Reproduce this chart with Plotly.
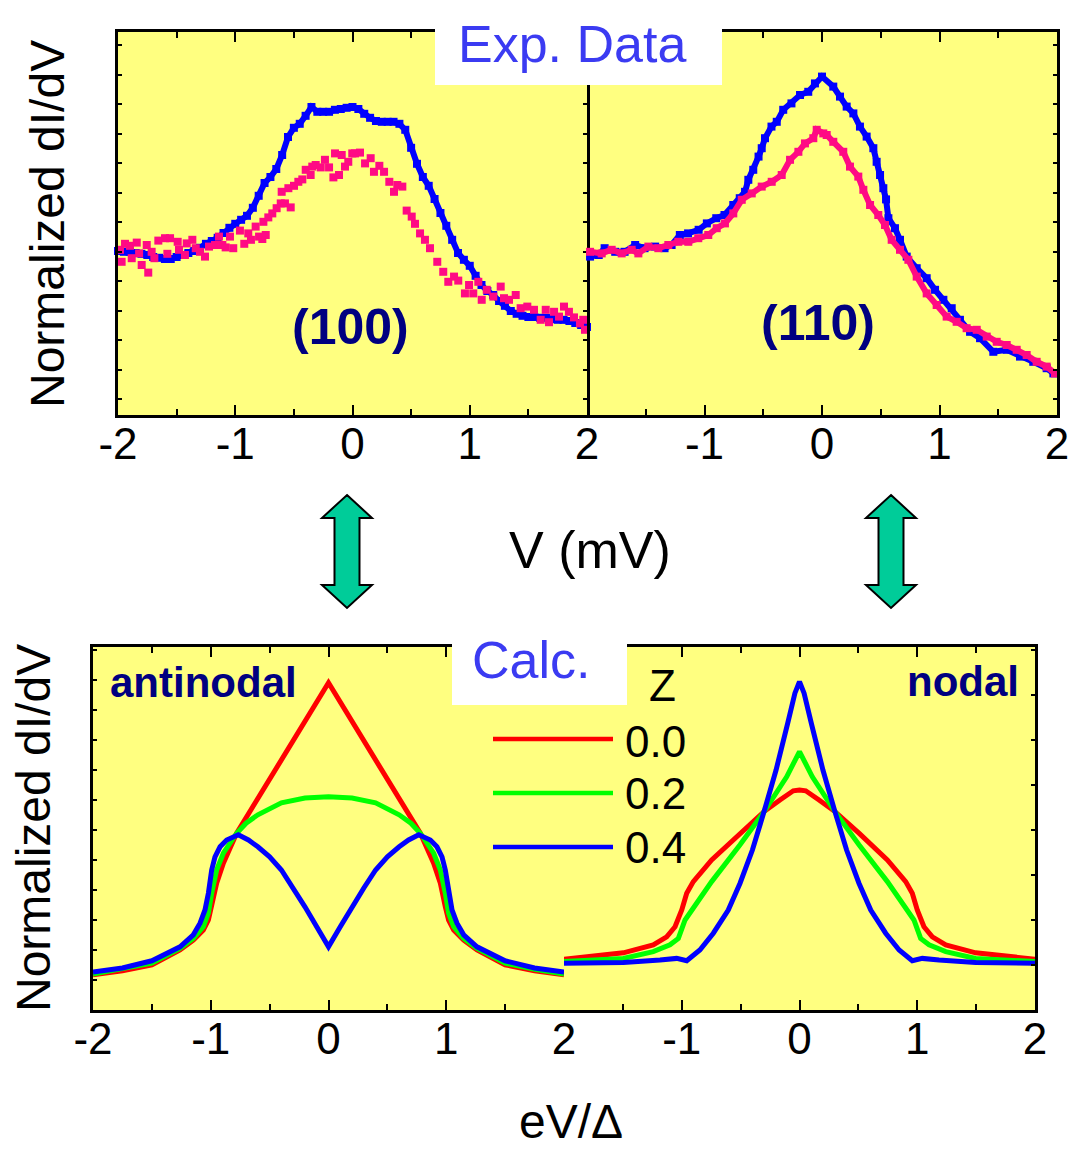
import plotly.graph_objects as go

W, H = 1068, 1157
FONT = "Liberation Sans, Arial, sans-serif"

# ---------------- DATA ----------------
# Exp. (100) blue: bias grid -2..2 step 0.05
V100_blue = [round(-2 + 0.05 * i, 2) for i in range(81)]
blue100 = [1.010, 1.008, 1.008, 1.005, 1.003, 1.000, 0.995, 0.993, 0.990, 0.990,
           0.995, 1.000, 1.005, 1.010, 1.018, 1.028, 1.035, 1.043, 1.055, 1.068,
           1.078, 1.088, 1.098, 1.118, 1.148, 1.180, 1.195, 1.215, 1.250, 1.295,
           1.318, 1.328, 1.348, 1.370, 1.358, 1.358, 1.358, 1.363, 1.365, 1.368,
           1.370, 1.365, 1.353, 1.343, 1.335, 1.333, 1.333, 1.333, 1.328, 1.313,
           1.268, 1.228, 1.195, 1.173, 1.140, 1.105, 1.073, 1.038, 1.005, 0.988,
           0.973, 0.948, 0.925, 0.910, 0.900, 0.885, 0.873, 0.860, 0.853, 0.848,
           0.845, 0.845, 0.843, 0.843, 0.840, 0.838, 0.838, 0.835, 0.830, 0.825,
           0.820]

# Exp. (100) pink (scattered points)
V100_pink = [-1.983, -1.969, -1.94, -1.898, -1.883, -1.84, -1.82, -1.798, -1.755, -1.742,
             -1.713, -1.69, -1.656, -1.599, -1.579, -1.556, -1.491, -1.48, -1.429, -1.414,
             -1.366, -1.337, -1.301, -1.258, -1.224, -1.173, -1.139, -1.11, -1.082, -1.045,
             -1.017, -0.96, -0.923, -0.889, -0.866, -0.826, -0.797, -0.769, -0.76, -0.74,
             -0.718, -0.684, -0.647, -0.612, -0.604, -0.576, -0.547, -0.527, -0.499, -0.462,
             -0.428, -0.399, -0.357, -0.343, -0.314, -0.271, -0.235, -0.2, -0.163, -0.149,
             -0.115, -0.092, -0.064, -0.036, -0.002, 0.021, 0.064, 0.107, 0.155, 0.183,
             0.229, 0.269, 0.314, 0.354, 0.382, 0.425, 0.462, 0.505, 0.533, 0.576,
             0.618, 0.661, 0.723, 0.774, 0.817, 0.866, 0.902, 0.959, 0.994, 1.03,
             1.073, 1.102, 1.145, 1.201, 1.264, 1.292, 1.335, 1.392, 1.434, 1.491,
             1.548, 1.605, 1.648, 1.676, 1.719, 1.761, 1.804, 1.846, 1.889, 1.94,
             1.968, 1.983]
pink100 = [1.013, 0.983, 1.028, 1.023, 0.992, 1.031, 1.004, 0.975, 1.025, 0.956,
           1.008, 0.992, 1.036, 1.042, 1.003, 1.042, 1.033, 1.013, 1.000, 1.029,
           1.038, 1.017, 1.008, 0.996, 1.021, 1.025, 1.046, 1.025, 1.019, 1.046,
           1.017, 1.061, 1.028, 1.054, 1.038, 1.071, 1.046, 1.040, 1.083, 1.050,
           1.094, 1.104, 1.117, 1.129, 1.158, 1.129, 1.167, 1.119, 1.173, 1.183,
           1.189, 1.213, 1.200, 1.221, 1.225, 1.219, 1.238, 1.219, 1.194, 1.254,
           1.200, 1.250, 1.221, 1.233, 1.254, 1.254, 1.256, 1.229, 1.242, 1.208,
           1.223, 1.208, 1.183, 1.158, 1.175, 1.171, 1.111, 1.096, 1.078, 1.054,
           1.038, 1.017, 0.983, 0.958, 0.933, 0.946, 0.936, 0.904, 0.925, 0.904,
           0.933, 0.888, 0.913, 0.896, 0.921, 0.892, 0.888, 0.900, 0.867, 0.871,
           0.863, 0.838, 0.863, 0.832, 0.858, 0.846, 0.871, 0.858, 0.844, 0.829,
           0.838, 0.813]

# Exp. (110) blue
V110_blue = [-1.974, -1.90, -1.85, -1.76, -1.68, -1.59, -1.51, -1.42, -1.34, -1.28,
             -1.21, -1.14, -1.05, -0.98, -0.90, -0.83, -0.755, -0.70, -0.655, -0.627,
             -0.585, -0.54, -0.513, -0.485, -0.43, -0.385, -0.33, -0.26, -0.187, -0.117,
             -0.06, 0.0, 0.096, 0.153, 0.21, 0.267, 0.323, 0.38, 0.437, 0.465,
             0.494, 0.522, 0.545, 0.565, 0.621, 0.664, 0.721, 0.806, 0.891, 0.962,
             1.033, 1.104, 1.174, 1.26, 1.345, 1.458, 1.572, 1.685, 1.798, 1.912,
             1.969]
blue110 = [0.996, 1.000, 1.017, 1.008, 1.008, 1.025, 1.017, 1.021, 1.017, 1.025,
           1.050, 1.054, 1.063, 1.079, 1.092, 1.100, 1.125, 1.142, 1.158, 1.188,
           1.213, 1.246, 1.267, 1.292, 1.321, 1.333, 1.363, 1.379, 1.400, 1.408,
           1.429, 1.446, 1.421, 1.396, 1.371, 1.354, 1.321, 1.296, 1.267, 1.233,
           1.200, 1.167, 1.139, 1.092, 1.067, 1.038, 0.996, 0.967, 0.942, 0.913,
           0.888, 0.867, 0.838, 0.808, 0.792, 0.758, 0.763, 0.746, 0.733, 0.717,
           0.704]

# Exp. (110) pink
V110_pink = [-1.974, -1.875, -1.79, -1.705, -1.62, -1.563, -1.478, -1.393, -1.308, -1.223,
             -1.138, -1.053, -0.968, -0.896, -0.826, -0.755, -0.683, -0.598, -0.513, -0.428,
             -0.343, -0.272, -0.201, -0.145, -0.074, -0.045, 0.011, 0.04, 0.096, 0.181,
             0.238, 0.309, 0.352, 0.409, 0.479, 0.536, 0.593, 0.664, 0.735, 0.806,
             0.891, 0.976, 1.061, 1.146, 1.231, 1.317, 1.402, 1.487, 1.572, 1.657,
             1.742, 1.827, 1.912, 1.983]
pink110 = [1.008, 1.004, 1.013, 1.004, 1.013, 1.004, 1.021, 1.017, 1.025, 1.033,
           1.033, 1.042, 1.050, 1.067, 1.079, 1.104, 1.138, 1.154, 1.171, 1.183,
           1.200, 1.238, 1.258, 1.279, 1.292, 1.313, 1.304, 1.300, 1.283, 1.258,
           1.221, 1.196, 1.163, 1.125, 1.100, 1.075, 1.038, 1.013, 0.988, 0.946,
           0.904, 0.875, 0.846, 0.833, 0.817, 0.813, 0.796, 0.783, 0.775, 0.763,
           0.750, 0.733, 0.721, 0.704]

# Calc. antinodal, Z = 0.0 / 0.2 / 0.4
Va = [-2.0, -1.75, -1.5, -1.261, -1.148, -1.063, -1.02, -0.992, -0.95, -0.893, -0.78,
      0.0,
      0.78, 0.893, 0.95, 0.992, 1.02, 1.063, 1.148, 1.261, 1.5, 1.75, 2.0]
anti_z00 = [0.688, 0.698, 0.713, 0.750, 0.775, 0.800, 0.825, 0.858, 0.917, 0.967, 1.042,
            1.418,
            1.042, 0.967, 0.917, 0.858, 0.825, 0.800, 0.775, 0.750, 0.713, 0.698, 0.688]

Va2 = [-2.0, -1.75, -1.5, -1.261, -1.148, -1.063, -1.02, -0.992, -0.95, -0.893, -0.78,
       -0.7, -0.6, -0.4, -0.2, 0.0, 0.2, 0.4, 0.6, 0.7,
       0.78, 0.893, 0.95, 0.992, 1.02, 1.063, 1.148, 1.261, 1.5, 1.75, 2.0]
anti_z02 = [0.690, 0.702, 0.717, 0.754, 0.779, 0.808, 0.842, 0.892, 0.950, 0.992, 1.042,
            1.067, 1.088, 1.118, 1.130, 1.133, 1.130, 1.118, 1.088, 1.067,
            1.042, 0.992, 0.950, 0.892, 0.842, 0.808, 0.779, 0.754, 0.717, 0.702, 0.690]

Va4 = [-2.0, -1.75, -1.5, -1.261, -1.148, -1.091, -1.049, -1.02, -0.992, -0.964, -0.921,
       -0.865, -0.766, -0.68, -0.6, -0.5, -0.4, -0.3, -0.2, -0.1, 0.0,
       0.1, 0.2, 0.3, 0.4, 0.5, 0.6, 0.68, 0.766, 0.865,
       0.921, 0.964, 0.992, 1.02, 1.049, 1.091, 1.148, 1.261, 1.5, 1.75, 2.0]
anti_z04 = [0.695, 0.705, 0.723, 0.758, 0.788, 0.817, 0.850, 0.892, 0.950, 0.983, 1.008,
            1.025, 1.038, 1.025, 1.008, 0.983, 0.950, 0.905, 0.858, 0.808, 0.758,
            0.808, 0.858, 0.905, 0.950, 0.983, 1.008, 1.025, 1.038, 1.025,
            1.008, 0.983, 0.950, 0.892, 0.850, 0.817, 0.788, 0.758, 0.723, 0.705, 0.695]

# Calc. nodal, Z = 0.0 / 0.2 / 0.4
Vn0 = [-2.0, -1.496, -1.242, -1.128, -1.057, -1.0, -0.958, -0.902, -0.746, -0.505, -0.301,
       -0.166, -0.053, 0.0, 0.053, 0.166,
       0.301, 0.505, 0.746, 0.902, 0.958, 1.0, 1.057, 1.128, 1.242, 1.496, 2.0]
nod_z00 = [0.727, 0.743, 0.763, 0.783, 0.808, 0.850, 0.892, 0.921, 0.975, 1.042, 1.096,
           1.125, 1.148, 1.150, 1.148, 1.125,
           1.096, 1.042, 0.975, 0.921, 0.892, 0.850, 0.808, 0.783, 0.763, 0.743, 0.727]

Vn2 = [-2.0, -1.496, -1.242, -1.1, -1.029, -0.972, -0.746, -0.505, -0.301, -0.109, 0.0,
       0.109, 0.301, 0.505, 0.746, 0.972, 1.029, 1.1, 1.242, 1.496, 2.0]
nod_z02 = [0.721, 0.729, 0.746, 0.763, 0.779, 0.825, 0.921, 1.013, 1.096, 1.183, 1.246,
           1.183, 1.096, 1.013, 0.921, 0.825, 0.779, 0.763, 0.746, 0.729, 0.721]

Vn4 = [-2.0, -1.496, -1.185, -1.043, -0.958, -0.846, -0.732, -0.605, -0.505, -0.4, -0.301,
       -0.199, -0.1, -0.039, 0.0, 0.039, 0.1, 0.199,
       0.301, 0.4, 0.505, 0.605, 0.732, 0.846, 0.958, 1.043, 1.185, 1.496, 2.0]
nod_z04 = [0.717, 0.719, 0.725, 0.729, 0.723, 0.750, 0.792, 0.850, 0.917, 1.000, 1.096,
           1.200, 1.317, 1.392, 1.421, 1.392, 1.317, 1.200,
           1.096, 1.000, 0.917, 0.850, 0.792, 0.750, 0.723, 0.729, 0.725, 0.719, 0.717]

tick_vals = [-2, -1, 0, 1, 2]
tick_text_left = ["-2", "-1", "0", "1", "2"]
tick_text_right = ["", "-1", "0", "1", "2"]
legend_labels = ["0.0", "0.2", "0.4"]

# ---------------- STYLE ----------------
BLUE = "#0000ff"
PINK = "#ff0a84"
RED = "#ff0000"
GREEN = "#00ff00"
NAVY = "#000080"
TXTBLUE = "#3b3bf2"
YELLOW = "#ffff80"
ARROW = "#00cc99"


def px(x):
    return x / W


def py(y):
    return 1 - y / H


fig = go.Figure()


def exp_trace(x, y, color, ax, mode="lines+markers", size=8, lw=5):
    return go.Scatter(x=x, y=y, mode=mode, xaxis="x" + ax, yaxis="y" + ax,
                      line=dict(color=color, width=lw),
                      marker=dict(symbol="square", size=size, color=color, line=dict(width=0)),
                      showlegend=False, hoverinfo="skip", cliponaxis=False)


fig.add_trace(exp_trace(V100_blue, blue100, BLUE, "", size=8, lw=6))
fig.add_trace(exp_trace(V100_pink, pink100, PINK, "", mode="markers", size=8))
fig.add_trace(exp_trace(V110_blue, blue110, BLUE, "2", size=8, lw=6))
fig.add_trace(exp_trace(V110_pink, pink110, PINK, "2", size=8, lw=6))


def calc_trace(x, y, color, ax):
    return go.Scatter(x=x, y=y, mode="lines", xaxis="x" + ax, yaxis="y" + ax,
                      line=dict(color=color, width=5), showlegend=False, hoverinfo="skip")


fig.add_trace(calc_trace(Va, anti_z00, RED, "3"))
fig.add_trace(calc_trace(Va2, anti_z02, GREEN, "3"))
fig.add_trace(calc_trace(Va4, anti_z04, BLUE, "3"))
fig.add_trace(calc_trace(Vn0, nod_z00, RED, "4"))
fig.add_trace(calc_trace(Vn2, nod_z02, GREEN, "4"))
fig.add_trace(calc_trace(Vn4, nod_z04, BLUE, "4"))

TOP = [py(415), py(32)]
BOT = [py(1010), py(647)]


def xax(domain, anchor, text):
    return dict(domain=domain, anchor=anchor, range=[-2, 2], showline=True,
                linecolor="black", linewidth=2.5, mirror="allticks",
                ticks="inside", ticklen=10, tickwidth=2, tickcolor="black",
                tickmode="array", tickvals=tick_vals, ticktext=text,
                tickfont=dict(family=FONT, size=44, color="black"),
                ticklabelstandoff=-12, ticklabeloverflow="allow",
                showgrid=False, zeroline=False,
                minor=dict(ticks="inside", ticklen=6, tickwidth=2, tickcolor="black",
                           tickmode="linear", tick0=-2, dtick=0.5, showgrid=False))


def yax(domain, anchor, rng, t0, dt, side="left", mirror="allticks"):
    return dict(domain=domain, anchor=anchor, range=rng, showline=True, side=side,
                linecolor="black", linewidth=2.5, mirror=mirror,
                ticks="inside", ticklen=4, tickwidth=1.5, tickcolor="black",
                tickmode="linear", tick0=t0, dtick=dt, showticklabels=False,
                showgrid=False, zeroline=False)


fig.update_layout(
    width=W, height=H, margin=dict(l=0, r=0, t=0, b=0, autoexpand=False),
    paper_bgcolor="white", plot_bgcolor=YELLOW,
    font=dict(family=FONT, color="black"),
    xaxis=xax([px(118), px(587)], "y", tick_text_left),
    yaxis=yax(TOP, "x", [0.6, 1.5575], 0.639, 0.07375),
    xaxis2=xax([px(587), px(1057)], "y2", tick_text_right),
    yaxis2=yax(TOP, "x2", [0.6, 1.5575], 0.639, 0.07375, side="right", mirror=False),
    xaxis3=xax([px(93), px(564)], "y3", tick_text_left),
    yaxis3=yax(BOT, "x3", [0.6, 1.5075], 0.6, 0.075, side="left", mirror=False),
    xaxis4=xax([px(564), px(1035)], "y4", tick_text_right),
    yaxis4=yax(BOT, "x4", [0.6, 1.5075], 0.7125, 0.1125, side="right", mirror=False),
)

shapes = []
# white label boxes
shapes.append(dict(type="rect", xref="paper", yref="paper", x0=px(435), x1=px(722),
                   y0=py(85), y1=py(0), fillcolor="white", line=dict(width=0), layer="above"))
shapes.append(dict(type="rect", xref="paper", yref="paper", x0=px(452), x1=px(627),
                   y0=py(705), y1=py(625), fillcolor="white", line=dict(width=0), layer="above"))


def arrow(cx, ty, by, hw=25, hl=23, sw=12.5):
    pts = [(cx, ty), (cx + hw, ty + hl), (cx + sw, ty + hl), (cx + sw, by - hl),
           (cx + hw, by - hl), (cx, by), (cx - hw, by - hl), (cx - sw, by - hl),
           (cx - sw, ty + hl), (cx - hw, ty + hl)]
    path = "M " + " L ".join(f"{px(a):.5f},{py(b):.5f}" for a, b in pts) + " Z"
    return dict(type="path", xref="paper", yref="paper", path=path,
                fillcolor=ARROW, line=dict(color="black", width=2), layer="above")


shapes.append(arrow(347, 495, 608))
shapes.append(arrow(891, 495, 608))

# legend lines
for yy, col in zip([739, 793, 847], [RED, GREEN, BLUE]):
    shapes.append(dict(type="line", xref="paper", yref="paper", x0=px(493), x1=px(613),
                       y0=py(yy), y1=py(yy), line=dict(color=col, width=4.5), layer="above"))
fig.update_layout(shapes=shapes)


def ann(text, x, y, size, color="black", bold=False, angle=0, xanchor="center"):
    t = f"<b>{text}</b>" if bold else text
    return dict(text=t, x=px(x), y=py(y), xref="paper", yref="paper",
                xanchor=xanchor, yanchor="middle", showarrow=False, textangle=angle,
                font=dict(family=FONT, size=size, color=color))


anns = [
    ann("Exp. Data", 572, 44, 52, TXTBLUE),
    ann("Calc.", 531, 660, 52, TXTBLUE),
    ann("(100)", 350, 327, 50, NAVY, bold=True),
    ann("(110)", 818, 323, 50, NAVY, bold=True),
    ann("antinodal", 203, 683, 42, NAVY, bold=True),
    ann("nodal", 963, 681, 42, NAVY, bold=True),
    ann("Normalized dI/dV", 48, 224, 48, angle=-90),
    ann("Normalized dI/dV", 33, 828, 48, angle=-90),
    ann("V (mV)", 590, 550, 52),
    ann("eV/Δ", 571, 1121, 48),
    ann("Z", 662, 685, 44),
]
for yy, lab in zip([741, 793, 847], legend_labels):
    anns.append(ann(lab, 656, yy, 44))
fig.update_layout(annotations=anns)

fig.write_html("out.html")
